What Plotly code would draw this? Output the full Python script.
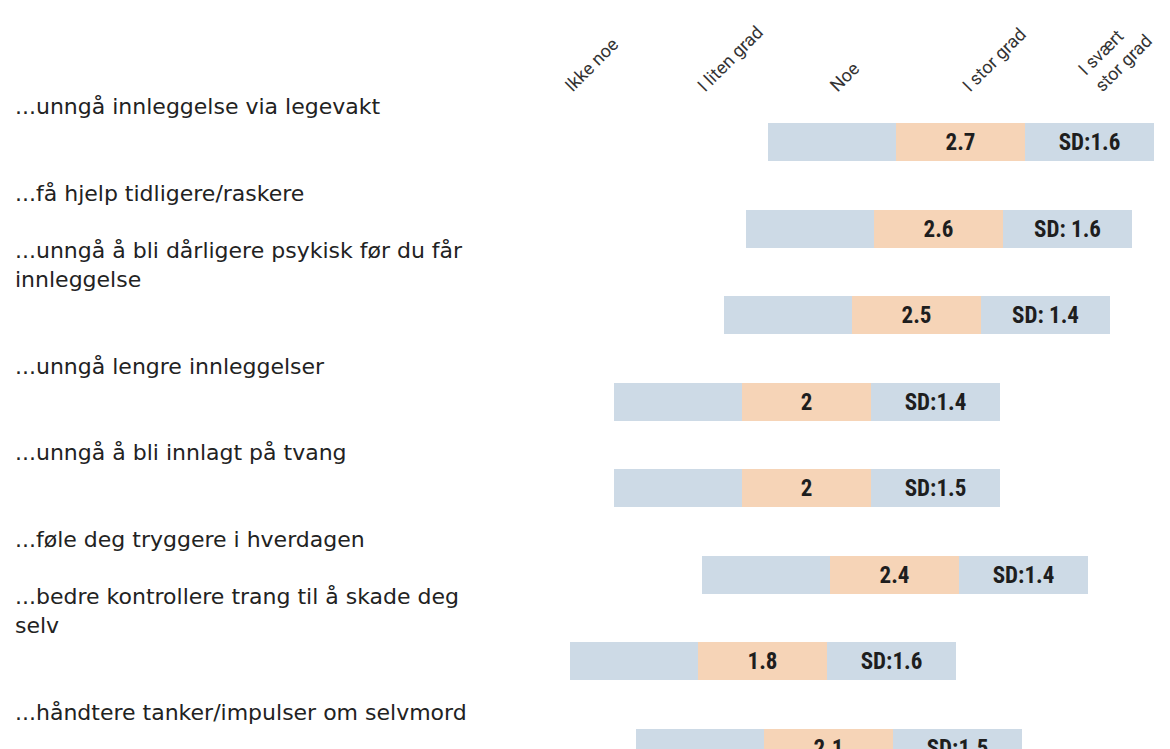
import plotly.graph_objects as go

# ---- data ----
row_labels = [
    "...unngå innleggelse via legevakt",
    "...få hjelp tidligere/raskere",
    "...unngå å bli dårligere psykisk før du får<br>innleggelse",
    "...unngå lengre innleggelser",
    "...unngå å bli innlagt på tvang",
    "...føle deg tryggere i hverdagen",
    "...bedre kontrollere trang til å skade deg<br>selv",
    "...håndtere tanker/impulser om selvmord",
]
means = [2.7, 2.6, 2.5, 2.0, 2.0, 2.4, 1.8, 2.1]
sd_labels = ["SD:1.6", "SD: 1.6", "SD: 1.4", "SD:1.4", "SD:1.5", "SD:1.4", "SD:1.6", "SD:1.5"]
scale_labels = ["Ikke noe", "I liten grad", "Noe", "I stor grad", "I svært<br>stor grad"]
scale_values = [1, 2, 3, 4, 5]

# ---- style ----
BLUE = "#cddae6"
PEACH = "#f6d4b7"
TXT = "#1e1e1e"
SEG = 0.585          # width of each segment (data units)
BAR_W = 0.44
cats = list(range(len(row_labels)))
NARROW = "Liberation Sans Narrow, Roboto Condensed, Arial Narrow, Roboto, sans-serif"

bar_font = dict(family=NARROW, size=23, color=TXT)

fig = go.Figure()
fig.add_trace(go.Bar(
    y=cats, x=[SEG] * len(means), base=[m - 1.5 * SEG for m in means],
    orientation="h", marker=dict(color=BLUE, line=dict(width=0)), width=BAR_W,
    hoverinfo="skip", showlegend=False))
fig.add_trace(go.Bar(
    y=cats, x=[SEG] * len(means), base=[m - 0.5 * SEG for m in means],
    orientation="h", marker=dict(color=PEACH, line=dict(width=0)), width=BAR_W,
    text=[f"<b>{m:g}</b>" for m in means], textposition="inside",
    insidetextanchor="middle", textangle=0, textfont=bar_font,
    hoverinfo="skip", showlegend=False))
fig.add_trace(go.Bar(
    y=cats, x=[SEG] * len(means), base=[m + 0.5 * SEG for m in means],
    orientation="h", marker=dict(color=BLUE, line=dict(width=0)), width=BAR_W,
    text=[f"<b>{s}</b>" for s in sd_labels], textposition="inside",
    insidetextanchor="middle", textangle=0, textfont=bar_font,
    hoverinfo="skip", showlegend=False))
# invisible trace carrying the top answer-scale axis
fig.add_trace(go.Scatter(
    x=scale_values, y=[cats[0]] * len(scale_values), xaxis="x2", mode="markers",
    marker=dict(opacity=0), hoverinfo="skip", showlegend=False))

for i, lab in enumerate(row_labels):
    fig.add_annotation(
        xref="paper", x=13 / 1170, xanchor="left",
        yref="y", y=cats[i], yanchor="bottom", yshift=21,
        text=lab, showarrow=False, align="left",
        font=dict(family="DejaVu Sans, Verdana, sans-serif", size=22, color="#222222"))

fig.update_layout(
    width=1170, height=749,
    margin=dict(l=0, r=0, t=100, b=0),
    paper_bgcolor="white", plot_bgcolor="white",
    barmode="overlay", bargap=0,
    xaxis=dict(range=[-1.667, 3.652], visible=False, fixedrange=True),
    xaxis2=dict(range=[-3.272, 5.558], overlaying="x", side="top",
                tickvals=scale_values, ticktext=scale_labels, tickangle=-45,
                showgrid=False, zeroline=False, showline=False, ticks="",
                tickfont=dict(family="Roboto, sans-serif", size=18, color="#333333")),
    yaxis=dict(range=[7.012, -0.485], visible=False, fixedrange=True),
)

fig.write_html("out.html", include_plotlyjs=True, config=dict(displayModeBar=False),
               post_script="document.body.style.margin='0';document.body.style.overflow='hidden';")
